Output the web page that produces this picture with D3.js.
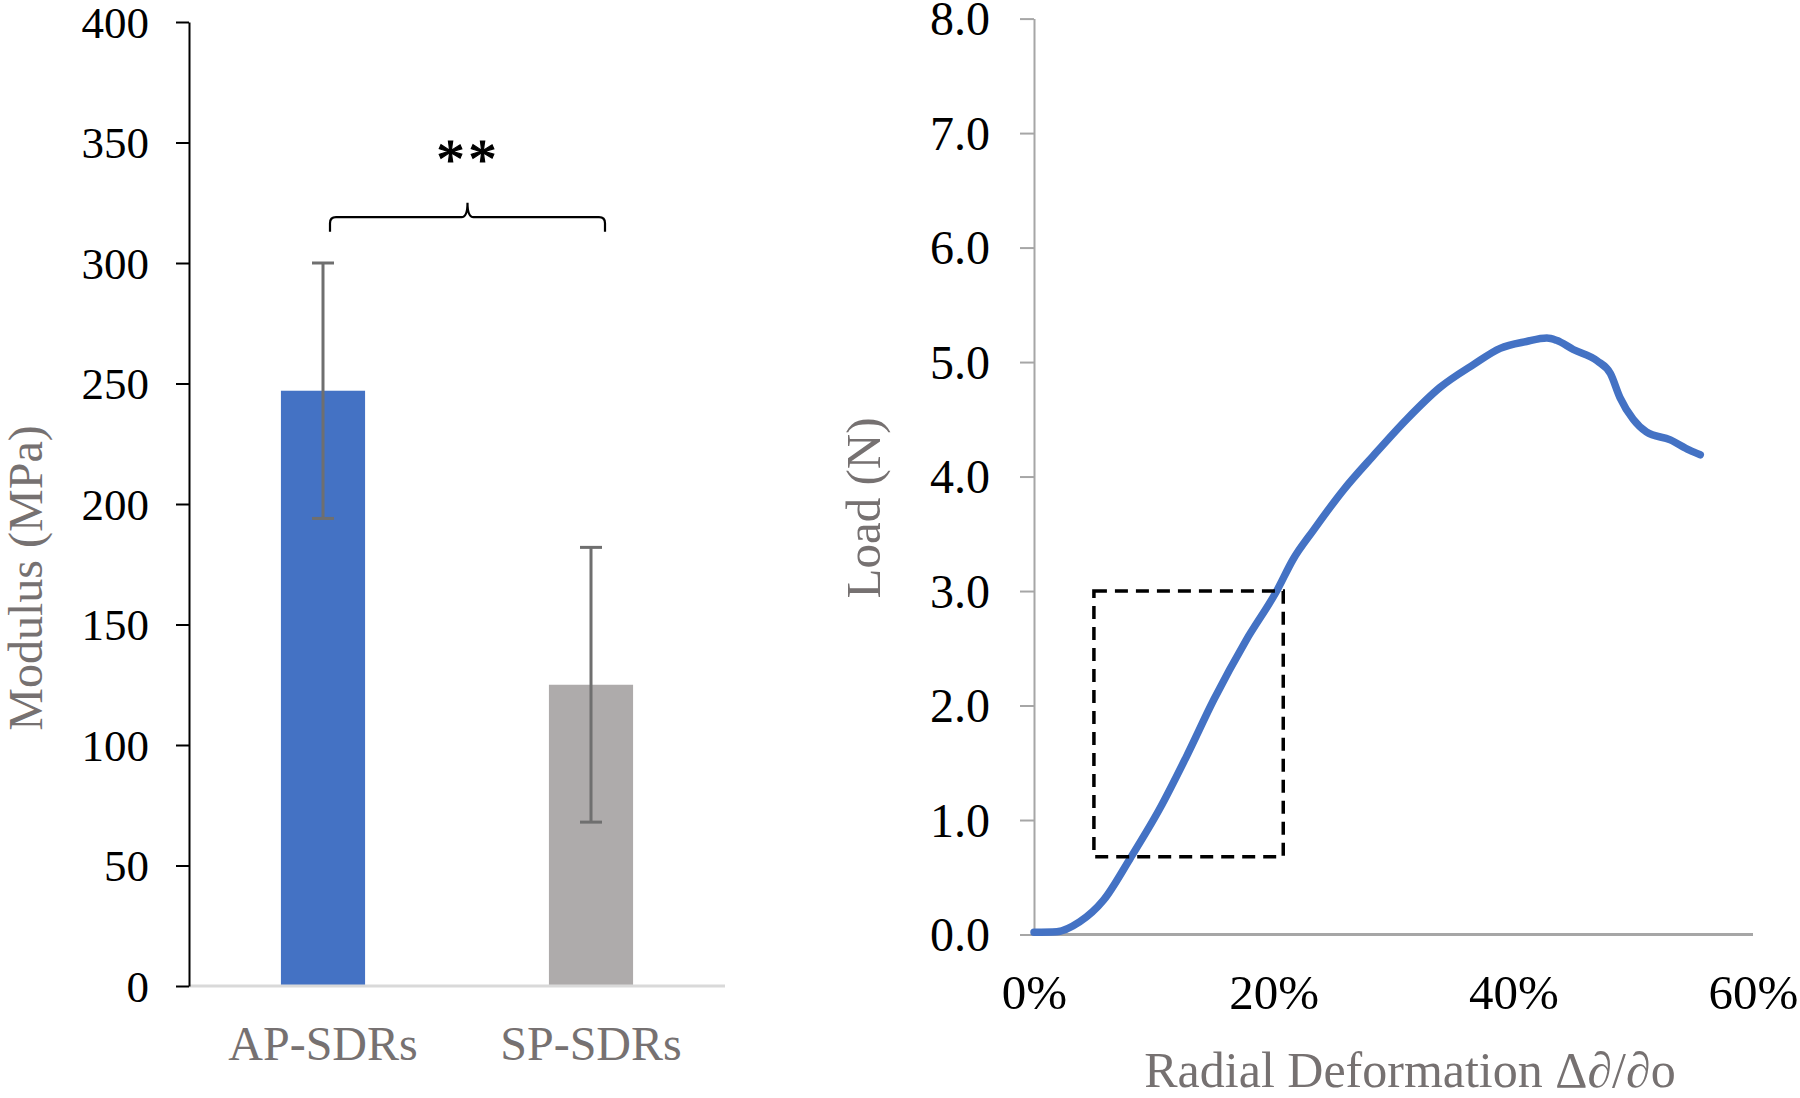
<!DOCTYPE html>
<html>
<head>
<meta charset="utf-8">
<script src="https://cdn.jsdelivr.net/npm/d3@7"></script>
<style>
  html, body { margin: 0; padding: 0; background: #fff; }
  svg { display: block; }
  text { font-family: "Liberation Serif", "Times New Roman", serif; }
</style>
</head>
<body>
<svg id="chart" width="1800" height="1098"></svg>
<script>
// ---------- Data: left bar chart ----------
const categories = ["AP-SDRs", "SP-SDRs"];
const modulusMean = [247, 125];
const modulusErr = [53, 57];
const barColors = ["#4472C4", "#AEABAB"];
const modulusTicks = [0, 50, 100, 150, 200, 250, 300, 350, 400];
const significance = "**";
const bracketLevel = [313, 319, 325]; // end-drop, bar, peak (MPa)

// ---------- Data: right load curve ----------
const deformation = [0, 0.019, 0.038, 0.058, 0.080, 0.105, 0.127, 0.150, 0.177, 0.2025,
  0.2164, 0.2331, 0.258, 0.283, 0.311, 0.339, 0.367, 0.389, 0.411, 0.428,
  0.436, 0.450, 0.470, 0.481, 0.489, 0.500, 0.511, 0.531, 0.547, 0.556];
const load = [0.02, 0.025, 0.11, 0.30, 0.66, 1.10, 1.55, 2.05, 2.57, 3.00,
  3.28, 3.53, 3.88, 4.18, 4.50, 4.78, 4.98, 5.12, 5.18, 5.21,
  5.19, 5.11, 5.01, 4.90, 4.69, 4.50, 4.39, 4.32, 4.23, 4.19];
const loadTicks = [0, 1, 2, 3, 4, 5, 6, 7, 8];
const deformTicks = [0, 0.2, 0.4, 0.6];
const boxX = [0.05, 0.208];
const boxY = [0.68, 3.0];

const svg = d3.select("#chart");
const gray = "#767171";

// ================= LEFT CHART =================
const yL = d3.scaleLinear().domain([0, 400]).range([986, 22]);
const xB = d3.scaleBand().domain(categories).range([189, 725])
  .paddingInner(0.686).paddingOuter(0.343);

const left = svg.append("g");

// bars
left.selectAll("rect.bar").data(categories).join("rect")
  .attr("class", "bar")
  .attr("x", d => xB(d))
  .attr("width", xB.bandwidth())
  .attr("y", (d, i) => yL(modulusMean[i]))
  .attr("height", (d, i) => yL(0) - yL(modulusMean[i]))
  .attr("fill", (d, i) => barColors[i]);

// x baseline (light gray)
left.append("line")
  .attr("x1", xB.range()[0]).attr("x2", xB.range()[1])
  .attr("y1", yL(0)).attr("y2", yL(0))
  .attr("stroke", "#d9d9d9").attr("stroke-width", 3);

// error bars
const eb = left.selectAll("g.err").data(categories).join("g").attr("class", "err")
  .attr("stroke", "#6f6f6f").attr("stroke-width", 3);
eb.append("line")
  .attr("x1", d => xB(d) + xB.bandwidth() / 2).attr("x2", d => xB(d) + xB.bandwidth() / 2)
  .attr("y1", (d, i) => yL(modulusMean[i] + modulusErr[i]))
  .attr("y2", (d, i) => yL(modulusMean[i] - modulusErr[i]));
[1, -1].forEach(s => {
  eb.append("line")
    .attr("x1", d => xB(d) + xB.bandwidth() / 2 - 11)
    .attr("x2", d => xB(d) + xB.bandwidth() / 2 + 11)
    .attr("y1", (d, i) => yL(modulusMean[i] + s * modulusErr[i]))
    .attr("y2", (d, i) => yL(modulusMean[i] + s * modulusErr[i]));
});

// y axis
const axL = left.append("g").attr("transform", `translate(189,0)`)
  .call(d3.axisLeft(yL).tickValues(modulusTicks).tickSize(13).tickPadding(27).tickSizeOuter(0));
axL.select(".domain").attr("stroke", "#000").attr("stroke-width", 2);
axL.selectAll(".tick line").attr("stroke", "#000").attr("stroke-width", 2);
axL.selectAll(".tick text").attr("font-size", 45).attr("fill", "#000")
  .attr("font-family", "Liberation Serif, serif").attr("dy", "0.34em");

// category labels
left.selectAll("text.cat").data(categories).join("text")
  .attr("class", "cat")
  .attr("x", d => xB(d) + xB.bandwidth() / 2)
  .attr("y", 1060)
  .attr("text-anchor", "middle")
  .attr("font-size", 48).attr("fill", gray)
  .text(d => d);

// y title
left.append("text")
  .attr("transform", "translate(42,578) rotate(-90)")
  .attr("text-anchor", "middle")
  .attr("font-size", 48).attr("fill", gray)
  .text("Modulus (MPa)");

// significance bracket
const bx0 = xB(categories[0]) + xB.bandwidth() / 2 + 7;
const bx1 = xB(categories[1]) + xB.bandwidth() / 2 + 14;
const bxm = (bx0 + bx1) / 2;
const yEnd = yL(bracketLevel[0]), yBar = yL(bracketLevel[1]), yPeak = yL(bracketLevel[2]);
const r = 6;
const bp = d3.path();
bp.moveTo(bx0, yEnd);
bp.lineTo(bx0, yBar + r);
bp.quadraticCurveTo(bx0, yBar, bx0 + r, yBar);
bp.lineTo(bxm - r, yBar);
bp.quadraticCurveTo(bxm, yBar, bxm, yPeak);
bp.quadraticCurveTo(bxm, yBar, bxm + r, yBar);
bp.lineTo(bx1 - r, yBar);
bp.quadraticCurveTo(bx1, yBar, bx1, yBar + r);
bp.lineTo(bx1, yEnd);
left.append("path").attr("d", bp.toString())
  .attr("fill", "none").attr("stroke", "#000").attr("stroke-width", 2.2);

left.append("text")
  .attr("x", bxm + 1).attr("y", 179)
  .attr("text-anchor", "middle")
  .attr("font-size", 56).attr("letter-spacing", 4).attr("fill", "#000")
  .attr("stroke", "#000").attr("stroke-width", 1.2)
  .text(significance);

// ================= RIGHT CHART =================
const xR = d3.scaleLinear().domain([0, 0.6]).range([1034, 1753]);
const yR = d3.scaleLinear().domain([0, 8]).range([934.5, 18.6]);
const right = svg.append("g");

// x axis line
right.append("line")
  .attr("x1", xR(0)).attr("x2", xR(0.6))
  .attr("y1", yR(0)).attr("y2", yR(0))
  .attr("stroke", "#a6a6a6").attr("stroke-width", 3);

// y axis
const axR = right.append("g").attr("transform", `translate(${xR(0)},0)`)
  .call(d3.axisLeft(yR).tickValues(loadTicks).tickFormat(d3.format(".1f"))
    .tickSize(14).tickPadding(30).tickSizeOuter(0));
axR.select(".domain").attr("stroke", "#a6a6a6").attr("stroke-width", 2);
axR.selectAll(".tick line").attr("stroke", "#a6a6a6").attr("stroke-width", 2);
axR.selectAll(".tick text").attr("font-size", 48).attr("fill", "#000")
  .attr("font-family", "Liberation Serif, serif").attr("dy", "0.34em");

// x tick labels
const axX = right.append("g").attr("transform", `translate(0,${yR(0)})`)
  .call(d3.axisBottom(xR).tickValues(deformTicks).tickFormat(d3.format(".0%"))
    .tickSize(0).tickPadding(40));
axX.select(".domain").remove();
axX.selectAll(".tick text").attr("font-size", 49).attr("fill", "#000")
  .attr("font-family", "Liberation Serif, serif").attr("dy", "0.71em");

// titles
right.append("text")
  .attr("x", 1410).attr("y", 1087)
  .attr("text-anchor", "middle")
  .attr("font-size", 50).attr("fill", gray)
  .text("Radial Deformation Δ∂/∂o");
right.append("text")
  .attr("transform", "translate(880,508) rotate(-90)")
  .attr("text-anchor", "middle")
  .attr("font-size", 49).attr("fill", gray)
  .text("Load (N)");

// curve
const pts = deformation.map((d, i) => [d, load[i]]);
right.append("path")
  .datum(pts)
  .attr("d", d3.line().x(d => xR(d[0])).y(d => yR(d[1])).curve(d3.curveMonotoneX))
  .attr("fill", "none").attr("stroke", "#4472C4").attr("stroke-width", 7.5)
  .attr("stroke-linecap", "round").attr("stroke-linejoin", "round");

// dashed box
right.append("rect")
  .attr("x", xR(boxX[0])).attr("width", xR(boxX[1]) - xR(boxX[0]))
  .attr("y", yR(boxY[1])).attr("height", yR(boxY[0]) - yR(boxY[1]))
  .attr("fill", "none").attr("stroke", "#000").attr("stroke-width", 3.5)
  .attr("stroke-dasharray", "13,8");
</script>
</body>
</html>
